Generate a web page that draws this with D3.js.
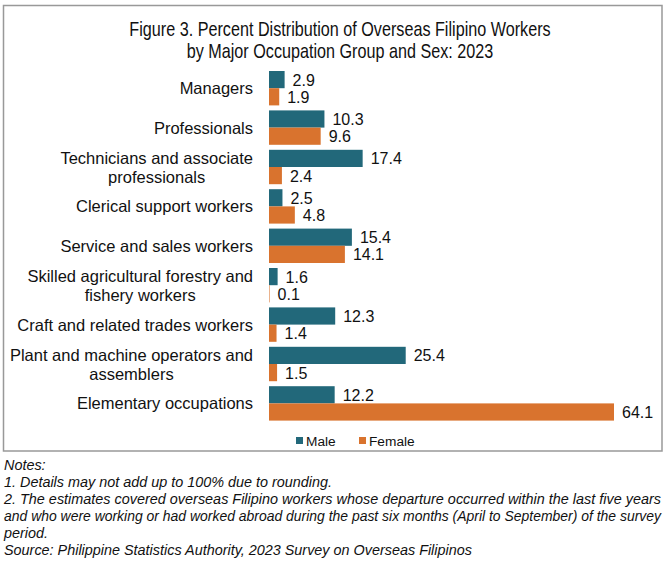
<!DOCTYPE html>
<html><head><meta charset="utf-8">
<script src="https://cdn.jsdelivr.net/npm/d3@7"></script>
<style>body{margin:0;background:#fff}svg{display:block}</style>
</head><body>
<script>
const categories = [
  ["Managers"],
  ["Professionals"],
  ["Technicians and associate", "professionals"],
  ["Clerical support workers"],
  ["Service and sales workers"],
  ["Skilled agricultural forestry and", "fishery workers"],
  ["Craft and related trades workers"],
  ["Plant and machine operators and", "assemblers"],
  ["Elementary occupations"]
];
const male = [2.9, 10.3, 17.4, 2.5, 15.4, 1.6, 12.3, 25.4, 12.2];
const female = [1.9, 9.6, 2.4, 4.8, 14.1, 0.1, 1.4, 1.5, 64.1];
const seriesNames = ["Male", "Female"];
const colors = ["#22687a", "#d9732e"];
const titleLines = ["Figure 3. Percent Distribution of Overseas Filipino Workers", "by Major Occupation Group and Sex: 2023"];
const notes = [
  "Notes:",
  "1. Details may not add up to 100% due to rounding.",
  "2. The estimates covered overseas Filipino workers whose departure occurred within the last five years",
  "and who were working or had worked abroad during the past six months (April to September) of the survey",
  "period.",
  "Source:   Philippine Statistics Authority, 2023 Survey on Overseas Filipinos"
];
const justified = [false, false, true, true, false, false];

const W = 667, H = 566;
const svg = d3.select("body").append("svg").attr("width", W).attr("height", H);
const font = "Liberation Sans, Arial, sans-serif";

svg.append("rect").attr("x", 3.5).attr("y", 5.5).attr("width", 658.5).attr("height", 445.5)
  .attr("fill", "none").attr("stroke", "#999").attr("stroke-width", 1.5);

svg.append("g").attr("transform", "translate(340,0) scale(0.83,1)")
  .selectAll("text").data(titleLines).join("text")
  .attr("x", 0).attr("y", (d, i) => 36.5 + i * 21.5)
  .attr("text-anchor", "middle").attr("font-family", font).attr("font-size", 19.5).attr("fill", "#111")
  .text(d => d);

const x = d3.scaleLinear().domain([0, 64.1]).range([269, 614]);
const y = d3.scaleBand().domain(d3.range(categories.length)).range([68.5, 68.5 + 9 * 39.4]).paddingInner(0.127).paddingOuter(0.0635);
const sub = d3.scaleBand().domain([0, 1]).range([0, y.bandwidth()]);

const data = [male, female];
const g = svg.append("g");
data.forEach((vals, s) => {
  g.append("g").selectAll("rect").data(vals).join("rect")
    .attr("x", x(0)).attr("y", (d, i) => y(i) + sub(s))
    .attr("width", d => x(d) - x(0)).attr("height", sub.bandwidth())
    .attr("fill", colors[s]);
  g.append("g").selectAll("text").data(vals).join("text")
    .attr("x", d => x(d) + 8).attr("y", (d, i) => y(i) + sub(s) + sub.bandwidth() / 2 + 6)
    .attr("font-family", font).attr("font-size", 16).attr("fill", "#111")
    .text(d => d.toFixed(1));
});

const labX = 253;
const lab = svg.append("g").selectAll("text").data(categories).join("text")
  .attr("font-family", font).attr("font-size", 16.5).attr("fill", "#111");
lab.each(function(lines, i) {
  const t = d3.select(this);
  const cy = y(i) + y.bandwidth() / 2;
  const start = cy + 6 - (lines.length - 1) * 9.5;
  const tsp = lines.map((l, k) => t.append("tspan").attr("y", start + k * 19).text(l));
  const widths = tsp.map(n => n.node().getComputedTextLength());
  const maxW = d3.max(widths);
  tsp.forEach(n => n.attr("x", labX - maxW / 2).attr("text-anchor", "middle"));
});

const leg = svg.append("g").attr("transform", "translate(296,446)");
const legX = [0, 63];
seriesNames.forEach((n, i) => {
  const lx = legX[i];
  leg.append("rect").attr("x", lx).attr("y", -9).attr("width", 7).attr("height", 7).attr("fill", colors[i]);
  leg.append("text").attr("x", lx + 10).attr("y", 0).attr("font-family", font).attr("font-size", 13.7).attr("fill", "#111").text(n);
});

svg.append("g").selectAll("text").data(notes).join("text")
  .attr("x", 4).attr("y", (d, i) => 470 + i * 17)
  .attr("font-family", font).attr("font-style", "italic").attr("fill", "#111")
  .attr("font-size", (d, i) => justified[i] ? 14 : 14.4)
  .each(function(d, i) {
    if (justified[i]) d3.select(this).attr("textLength", 657).attr("lengthAdjust", "spacingAndGlyphs");
  })
  .text(d => d);
</script>
</body></html>
